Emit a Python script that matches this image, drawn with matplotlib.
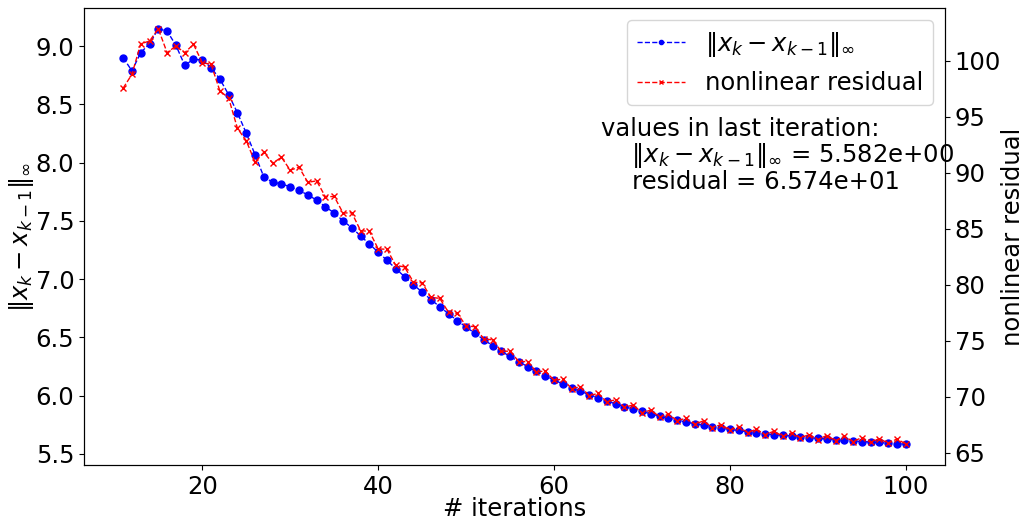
import matplotlib
matplotlib.use("Agg")
import matplotlib.pyplot as plt
from matplotlib.ticker import MultipleLocator

# iteration index
iterations = list(range(11, 101))

# ||x_k - x_{k-1}||_inf per iteration (left axis)
step_norm = [
    8.900, 8.787, 8.943, 9.020, 9.148, 9.128, 9.006, 8.835, 8.886, 8.880,
    8.815, 8.716, 8.582, 8.426, 8.252, 8.068, 7.876, 7.831, 7.817, 7.791,
    7.760, 7.723, 7.677, 7.620, 7.567, 7.500, 7.440, 7.370, 7.300, 7.231,
    7.160, 7.089, 7.020, 6.952, 6.887, 6.824, 6.762, 6.702, 6.642, 6.588,
    6.534, 6.480, 6.429, 6.380, 6.335, 6.290, 6.248, 6.207, 6.170, 6.133,
    6.099, 6.065, 6.036, 6.008, 5.980, 5.954, 5.928, 5.905, 5.883, 5.863,
    5.843, 5.823, 5.806, 5.789, 5.772, 5.758, 5.747, 5.732, 5.721, 5.709,
    5.700, 5.689, 5.681, 5.672, 5.664, 5.658, 5.653, 5.644, 5.638, 5.632,
    5.627, 5.621, 5.615, 5.611, 5.605, 5.601, 5.597, 5.591, 5.588, 5.582,
]

# nonlinear residual per iteration (right axis)
residual = [
    97.57, 98.81, 101.54, 101.78, 102.88, 100.74, 101.34, 100.74, 101.49, 99.85,
    99.70, 97.33, 96.68, 93.97, 92.87, 90.95, 91.84, 90.87, 91.39, 90.24,
    90.50, 89.16, 89.28, 87.86, 87.89, 86.41, 86.43, 84.83, 84.77, 83.20,
    83.17, 81.72, 81.59, 80.24, 80.16, 78.87, 78.78, 77.53, 77.44, 76.31,
    76.25, 75.16, 75.07, 74.05, 74.06, 73.12, 73.13, 72.19, 72.30, 71.45,
    71.57, 70.70, 70.89, 70.08, 70.28, 69.52, 69.72, 69.04, 69.25, 68.54,
    68.80, 68.18, 68.41, 67.85, 68.06, 67.53, 67.83, 67.23, 67.50, 66.99,
    67.30, 66.78, 67.08, 66.60, 66.90, 66.45, 66.76, 66.31, 66.60, 66.16,
    66.52, 66.07, 66.45, 65.98, 66.34, 65.90, 66.25, 65.81, 66.22, 65.74,
]

NORM_LABEL = r"$\Vert x_k - x_{k-1}\Vert_\infty$"
FONTSIZE = 17.5

fig = plt.figure(figsize=(10.28, 5.24), dpi=100)
ax = fig.add_subplot(111)
fig.subplots_adjust(left=84 / 1028, right=945 / 1028, top=1 - 8 / 524, bottom=1 - 465 / 524)

l1, = ax.plot(iterations, step_norm, "b--o", markersize=5, linewidth=1.0, label=NORM_LABEL)
ax.set_xlabel("# iterations", fontsize=FONTSIZE, labelpad=-1)
ax.set_ylabel(NORM_LABEL, fontsize=FONTSIZE, labelpad=0)
ax.tick_params(labelsize=FONTSIZE)
ax.yaxis.set_major_locator(MultipleLocator(0.5))

ax2 = ax.twinx()
l2, = ax2.plot(iterations, residual, "r--x", markersize=5, linewidth=1.0, label="nonlinear residual")
ax2.set_ylabel("nonlinear residual", fontsize=FONTSIZE, labelpad=0)
ax2.tick_params(labelsize=FONTSIZE)
ax2.yaxis.set_major_locator(MultipleLocator(5))

ax2.legend(handles=[l1, l2], loc="upper right", fontsize=FONTSIZE, markerscale=0.6)

info = (
    "values in last iteration:\n"
    f"    {NORM_LABEL} = {step_norm[-1]:.3e}\n"
    f"    residual = {residual[-1]:.3e}"
)
ax2.text(0.601, 0.762, info, transform=ax2.transAxes, fontsize=FONTSIZE,
         ha="left", va="top", linespacing=1.0)

fig.savefig("out.png", dpi=100)
